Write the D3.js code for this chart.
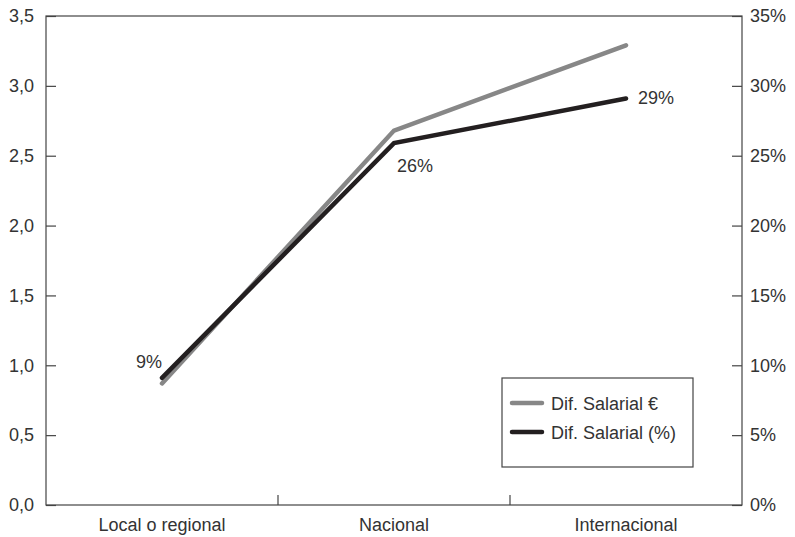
<!DOCTYPE html>
<html>
<head>
<meta charset="utf-8">
<script src="https://cdn.jsdelivr.net/npm/d3@7"></script>
<style>
  body { margin: 0; background: #fff; }
  text { font-family: "Liberation Sans", Arial, sans-serif; fill: #333; }
</style>
</head>
<body>
<div id="chart"></div>
<script>
// Data
var categories = ["Local o regional", "Nacional", "Internacional"];
var difEuro = [0.87, 2.68, 3.29];
var difPct = [9.1, 25.9, 29.1];
var pctLabels = ["9%", "26%", "29%"];
var leftTicks = [0, 0.5, 1, 1.5, 2, 2.5, 3, 3.5];
var rightTicks = [0, 5, 10, 15, 20, 25, 30, 35];

var W = 795, H = 537;
var margin = {top: 16, right: 53, bottom: 32, left: 46},
    w = W - margin.left - margin.right,
    h = H - margin.top - margin.bottom;
var fs = 18;

var svg = d3.select("#chart").append("svg")
  .attr("width", W).attr("height", H)
  .append("g")
  .attr("transform", `translate(${margin.left},${margin.top})`);

var x = d3.scaleBand().domain(categories).range([0, w]);
var yL = d3.scaleLinear().domain([0, 3.5]).range([h, 0]);
var yR = d3.scaleLinear().domain([0, 35]).range([h, 0]);

var axisColor = "#444";

// frame
svg.append("rect")
  .attr("x", 0).attr("y", 0).attr("width", w).attr("height", h)
  .attr("fill", "none").attr("stroke", axisColor).attr("stroke-width", 1.2);

// left axis: ticks inward
var left = svg.append("g")
  .call(d3.axisLeft(yL).tickValues(leftTicks).tickSize(-10).tickPadding(12)
    .tickFormat(d => d3.format(".1f")(d).replace(".", ",")));
left.select(".domain").remove();
left.selectAll("line").attr("stroke", axisColor).attr("stroke-width", 1.2);
left.selectAll("text").attr("font-size", fs).attr("fill", "#333")
  .attr("font-family", "Liberation Sans, Arial, sans-serif");

// right axis
var right = svg.append("g")
  .attr("transform", `translate(${w},0)`)
  .call(d3.axisRight(yR).tickValues(rightTicks).tickSize(-10).tickPadding(8)
    .tickFormat(d => d + "%"));
right.select(".domain").remove();
right.selectAll("line").attr("stroke", axisColor).attr("stroke-width", 1.2);
right.selectAll("text").attr("font-size", fs).attr("fill", "#333")
  .attr("font-family", "Liberation Sans, Arial, sans-serif");

// bottom axis: separators between categories
svg.selectAll(".sep")
  .data(categories.slice(1))
  .enter().append("line")
  .attr("x1", d => x(d)).attr("x2", d => x(d))
  .attr("y1", h).attr("y2", h - 10)
  .attr("stroke", axisColor).attr("stroke-width", 1.2);

svg.selectAll(".cat")
  .data(categories)
  .enter().append("text")
  .attr("x", d => x(d) + x.bandwidth() / 2)
  .attr("y", h + 26)
  .attr("text-anchor", "middle")
  .attr("font-size", fs)
  .text(d => d);

var cx = d => x(d) + x.bandwidth() / 2;

svg.append("path")
  .datum(difEuro)
  .attr("fill", "none")
  .attr("stroke", "#878787")
  .attr("stroke-width", 4.5)
  .attr("stroke-linecap", "round")
  .attr("d", d3.line().x((d, i) => cx(categories[i])).y(d => yL(d)));

svg.append("path")
  .datum(difPct)
  .attr("fill", "none")
  .attr("stroke", "#231f20")
  .attr("stroke-width", 4.5)
  .attr("stroke-linecap", "round")
  .attr("d", d3.line().x((d, i) => cx(categories[i])).y(d => yR(d)));

// percent labels
var labelOffsets = [[-13, -10], [21, 29], [30, 6]];
svg.selectAll(".pl")
  .data(difPct)
  .enter().append("text")
  .attr("x", (d, i) => cx(categories[i]) + labelOffsets[i][0])
  .attr("y", (d, i) => yR(d) + labelOffsets[i][1])
  .attr("text-anchor", "middle")
  .attr("font-size", fs)
  .text((d, i) => pctLabels[i]);

// legend
var lg = svg.append("g").attr("transform", `translate(${502 - margin.left},${378 - margin.top})`);
lg.append("rect").attr("width", 191).attr("height", 89)
  .attr("fill", "#fff").attr("stroke", axisColor).attr("stroke-width", 1.2);
var legendItems = [{name: "Dif. Salarial €", color: "#878787"}, {name: "Dif. Salarial (%)", color: "#231f20"}];
legendItems.forEach(function(it, i) {
  var yy = 25 + i * 29;
  lg.append("line").attr("x1", 10).attr("x2", 40).attr("y1", yy).attr("y2", yy)
    .attr("stroke", it.color).attr("stroke-width", 4.5).attr("stroke-linecap", "round");
  lg.append("text").attr("x", 49).attr("y", yy + 7).attr("font-size", fs).text(it.name);
});
</script>
</body>
</html>
